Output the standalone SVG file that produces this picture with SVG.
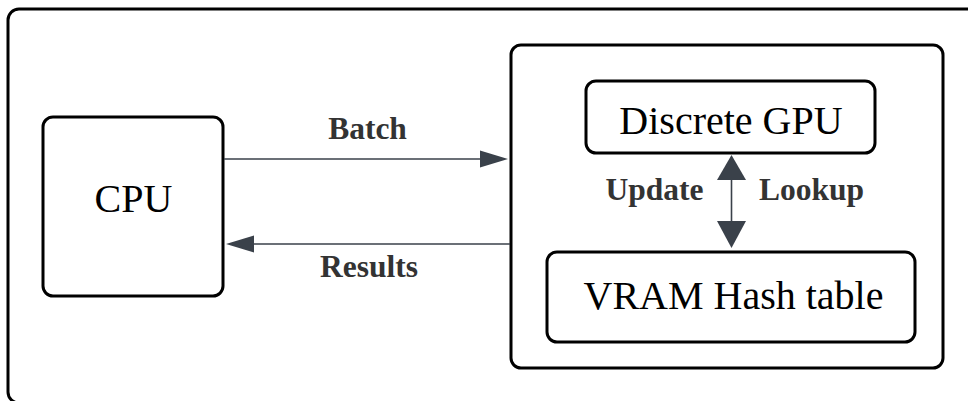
<svg xmlns="http://www.w3.org/2000/svg" width="968" height="401" viewBox="0 0 968 401">
<style>
.box{fill:#fff;stroke:#000;stroke-width:3}
.t{font-family:"Liberation Serif",serif;font-size:40px;fill:#000;text-anchor:middle}
.lb{font-family:"Liberation Serif",serif;font-size:31.5px;font-weight:bold;fill:#333;text-anchor:middle}
.ln{stroke:#3a414a;stroke-width:1.6;fill:none}
.hd{fill:#3a414a}
</style>
<rect width="968" height="401" fill="#fff"/>
<g id="outer"><rect class="box" x="8" y="9" width="980" height="394" rx="11"/></g>
<g id="gpu-container"><rect class="box" x="511" y="45" width="432" height="323" rx="10"/></g>
<g id="cpu"><rect class="box" x="43" y="117" width="180" height="179" rx="10"/><text class="t" x="133.5" y="212">CPU</text></g>
<g id="discrete-gpu"><rect class="box" x="586" y="81" width="289" height="72" rx="10"/><text class="t" x="731" y="134">Discrete GPU</text></g>
<g id="vram"><rect class="box" x="547" y="252" width="368" height="90" rx="10"/><text class="t" x="733.5" y="309">VRAM Hash table</text></g>
<g id="connectors">
<line class="ln" x1="224" y1="159" x2="482" y2="159"/>
<polygon class="hd" points="508,159 480,150.5 480,167.5"/>
<text class="lb" x="367.5" y="139">Batch</text>
<line class="ln" x1="510" y1="244" x2="252" y2="244"/>
<polygon class="hd" points="226,244 254,235.5 254,252.5"/>
<text class="lb" x="369" y="277">Results</text>
<line class="ln" x1="731.5" y1="178" x2="731.5" y2="224"/>
<polygon class="hd" points="731.5,155 717,180 746,180"/>
<polygon class="hd" points="731.5,248 717,221 746,221"/>
<text class="lb" x="654.5" y="200">Update</text>
<text class="lb" x="811.5" y="200">Lookup</text>
</g>
</svg>
